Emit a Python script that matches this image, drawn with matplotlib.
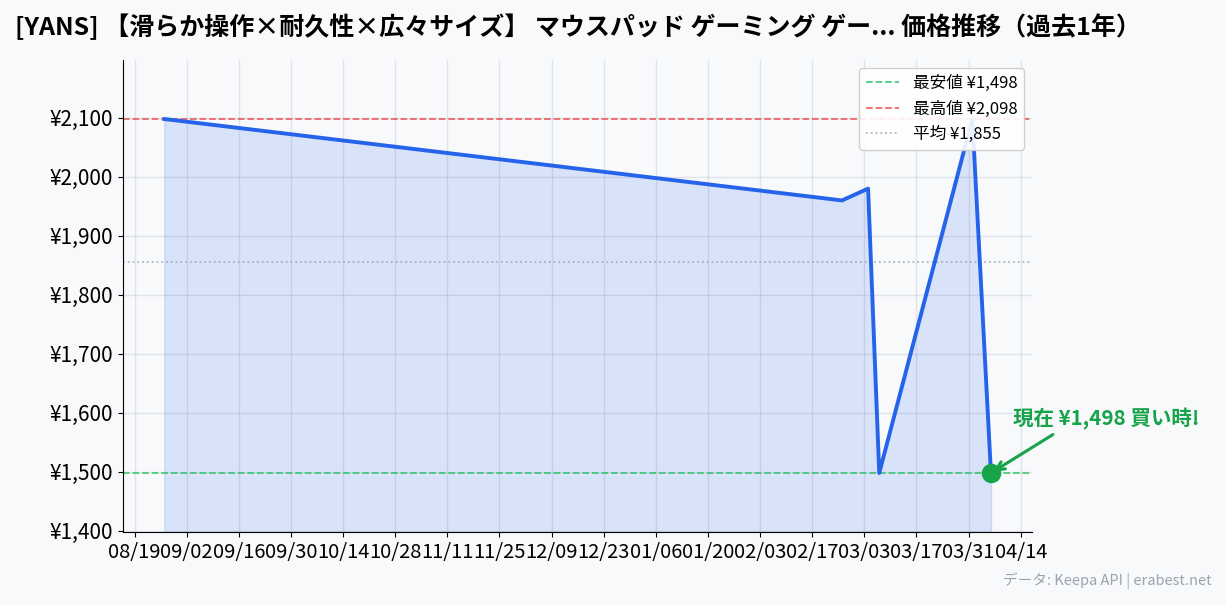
import matplotlib
matplotlib.use("Agg")
import matplotlib.pyplot as plt
import matplotlib.dates as mdates
import pandas as pd

plt.rcParams['font.family'] = ['Noto Sans CJK JP', 'DejaVu Sans']

dates = pd.to_datetime(["2024-08-27", "2025-02-25", "2025-03-04",
                        "2025-03-07", "2025-04-01", "2025-04-06"])
prices = [2098, 1960, 1980, 1498, 2098, 1498]
title = "[YANS] 【滑らか操作×耐久性×広々サイズ】 マウスパッド ゲーミング ゲー... 価格推移（過去1年）"
tick_start, tick_end = "2024-08-19", "2025-04-14"

low = min(prices)
high = max(prices)
avg = sum(prices) / len(prices)
bg = "#f8f9fb"

fig = plt.figure(figsize=(12.26, 6.05), dpi=100, facecolor=bg)
ax = fig.add_axes([0.1003, 0.1207, 0.7417, 0.7801])
ax.set_facecolor(bg)

ax.plot(dates, prices, color="#2563eb", lw=2.8, zorder=3)
ax.fill_between(dates, prices, 1398, color="#2563eb", alpha=0.15, zorder=2)

ax.axhline(low, color="#22c55e", ls="--", lw=1.3, alpha=0.8, label=f"最安値 ¥{low:,}")
ax.axhline(high, color="#ef4444", ls="--", lw=1.3, alpha=0.8, label=f"最高値 ¥{high:,}")
ax.axhline(avg, color="#9ca3af", ls=":", lw=1.3, alpha=0.8, label=f"平均 ¥{avg:,.0f}")

ax.scatter([dates[-1]], [prices[-1]], s=170, color="#16a34a", zorder=5)
ax.annotate(f"現在 ¥{prices[-1]:,} 買い時!", xy=(dates[-1], prices[-1]),
            xytext=(16, 34), textcoords="offset points",
            color="#16a34a", fontsize=14.8, fontweight="bold",
            arrowprops=dict(arrowstyle="->", color="#16a34a", lw=2.2,
                            relpos=(0.25, 0.0)))

ax.set_ylim(1398, 2198)
ax.set_yticks(range(1400, 2101, 100))
ax.yaxis.set_major_formatter(plt.FuncFormatter(lambda v, p: f"¥{v:,.0f}"))
ax.set_xticks(pd.date_range(tick_start, tick_end, freq="14D"))
ax.xaxis.set_major_formatter(mdates.DateFormatter("%m/%d"))
ax.tick_params(axis="y", labelsize=15)
ax.tick_params(axis="x", labelsize=14.5)
ax.grid(True, color="#9ca3af", alpha=0.25, lw=1)
ax.set_axisbelow(True)
for s in ["top", "right"]:
    ax.spines[s].set_visible(False)

ax.legend(loc="upper right", fontsize=12, framealpha=0.9, edgecolor="#cccccc")

fig.text(0.012, 0.955, title, fontsize=18, fontweight="bold", ha="left", va="center")
fig.text(0.988, 0.04, "データ: Keepa API | erabest.net", fontsize=10.5,
         color="#9ca3af", ha="right", va="center")

fig.savefig("out.png", dpi=100, facecolor=bg)
